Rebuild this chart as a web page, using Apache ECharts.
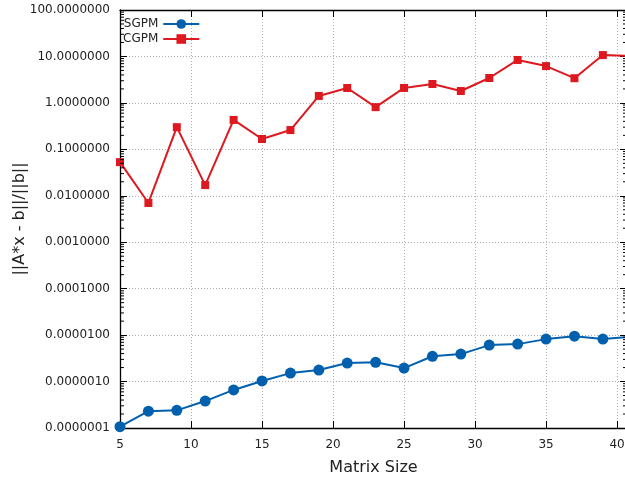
<!DOCTYPE html>
<html><head><meta charset="utf-8">
<script src="https://cdn.jsdelivr.net/npm/echarts@6/dist/echarts.min.js"></script>
<style>html,body{margin:0;padding:0;background:#fff}#c{width:625px;height:478px}</style>
</head><body><div id="c"></div>
<script>
var sizes = [5, 7, 9, 11, 13, 15, 17, 19, 21, 23, 25, 27, 29, 31, 33, 35, 37, 39, 41];
var sgpm = [1.07e-7, 2.3e-7, 2.4e-7, 3.8e-7, 6.6e-7, 1.03e-6, 1.52e-6, 1.77e-6, 2.5e-6, 2.6e-6, 1.95e-6, 3.5e-6, 3.9e-6, 6.1e-6, 6.4e-6, 8.2e-6, 9.5e-6, 8.2e-6, 9.2e-6];
var cgpm = [0.053, 0.0070, 0.30, 0.017, 0.43, 0.167, 0.26, 1.41, 2.09, 0.81, 2.1, 2.55, 1.8, 3.43, 8.4, 6.2, 3.4, 10.7, 10.2];
var xTicks = [5, 10, 15, 20, 25, 30, 35, 40];
var decades = [-7, -6, -5, -4, -3, -2, -1, 0, 1];

var minorVals = [];
decades.forEach(function(d){ for (var k = 2; k <= 9; k++) minorVals.push([k * Math.pow(10, d)]); });

var FONT = 'DejaVu Sans';
var chart = echarts.init(document.getElementById('c'));
function pairs(ys){ return sizes.map(function(x,i){return [x, ys[i]];}); }
var axLine = {show:true, lineStyle:{color:'#000', width:1.3}};
chart.setOption({
  animation:false,
  textStyle:{fontFamily:FONT},
  grid:{left:120, right:-2, top:10, bottom:50, containLabel:false, outerBoundsMode:'none'},
  legend:{
    orient:'vertical', left:118, top:13, align:'right', itemGap:3,
    itemWidth:36, itemHeight:12,
    textStyle:{fontFamily:FONT, fontSize:12, color:'#222'},
    data:['SGPM','CGPM']
  },
  xAxis:[{
    type:'value', min:5, max:40.7, interval:5,
    name:'Matrix Size', nameLocation:'middle', nameGap:32,
    nameTextStyle:{fontSize:16, color:'#222', fontFamily:FONT},
    axisLine:axLine,
    axisTick:{show:true, inside:true, length:7, lineStyle:{color:'#000'}},
    axisLabel:{fontSize:12, color:'#222', margin:11, fontFamily:FONT,
      formatter:function(v){return xTicks.indexOf(v)>=0 ? String(v) : '';}},
    splitLine:{show:true, lineStyle:{color:'#b0b0b0', type:[1,2], width:1}}
  },{
    type:'value', min:5, max:40.7, interval:5, position:'top',
    axisLine:axLine,
    axisTick:{show:true, inside:true, length:7, lineStyle:{color:'#000'}},
    axisLabel:{show:false}, splitLine:{show:false}
  }],
  yAxis:[{
    type:'log', logBase:10, min:1e-7, max:100,
    name:'||A*x - b||/||b||', nameLocation:'middle', nameGap:92, nameRotate:90,
    nameMoveOverlap:false,
    nameTextStyle:{fontSize:16, color:'#222', fontFamily:FONT},
    axisLine:axLine,
    axisTick:{show:true, inside:true, length:7, lineStyle:{color:'#000'}},
    axisLabel:{fontSize:12, color:'#222', margin:10, fontFamily:FONT,
      formatter:function(v){return Number(v).toFixed(7);}},
    splitLine:{show:true, lineStyle:{color:'#b0b0b0', type:[1,2], width:1}}
  },{
    type:'log', logBase:10, min:1e-7, max:100, position:'right',
    axisLine:axLine,
    axisTick:{show:true, inside:true, length:7, lineStyle:{color:'#000'}},
    axisLabel:{show:false}, splitLine:{show:false}
  }],
  series:[{
    name:'minor', type:'custom', silent:true, clip:false, z:5,
    xAxisIndex:0, yAxisIndex:0,
    encode:{y:0},
    data:minorVals,
    renderItem:function(params, api){
      var cs = params.coordSys;
      var y = api.coord([5, api.value(0)])[1];
      var st = {stroke:'#000', lineWidth:1};
      return {type:'group', children:[
        {type:'line', shape:{x1:cs.x, y1:y, x2:cs.x+4, y2:y}, style:st},
        {type:'line', shape:{x1:cs.x+cs.width, y1:y, x2:cs.x+cs.width-4, y2:y}, style:st}
      ]};
    }
  },{
    name:'SGPM', type:'line', data:pairs(sgpm), clip:true,
    symbol:'circle', symbolSize:11,
    itemStyle:{color:'#0060ad'}, lineStyle:{color:'#0060ad', width:2}
  },{
    name:'CGPM', type:'line', data:pairs(cgpm), clip:true,
    symbol:'rect', symbolSize:8,
    itemStyle:{color:'#dd181f'}, lineStyle:{color:'#dd181f', width:2}
  }]
});
</script></body></html>
